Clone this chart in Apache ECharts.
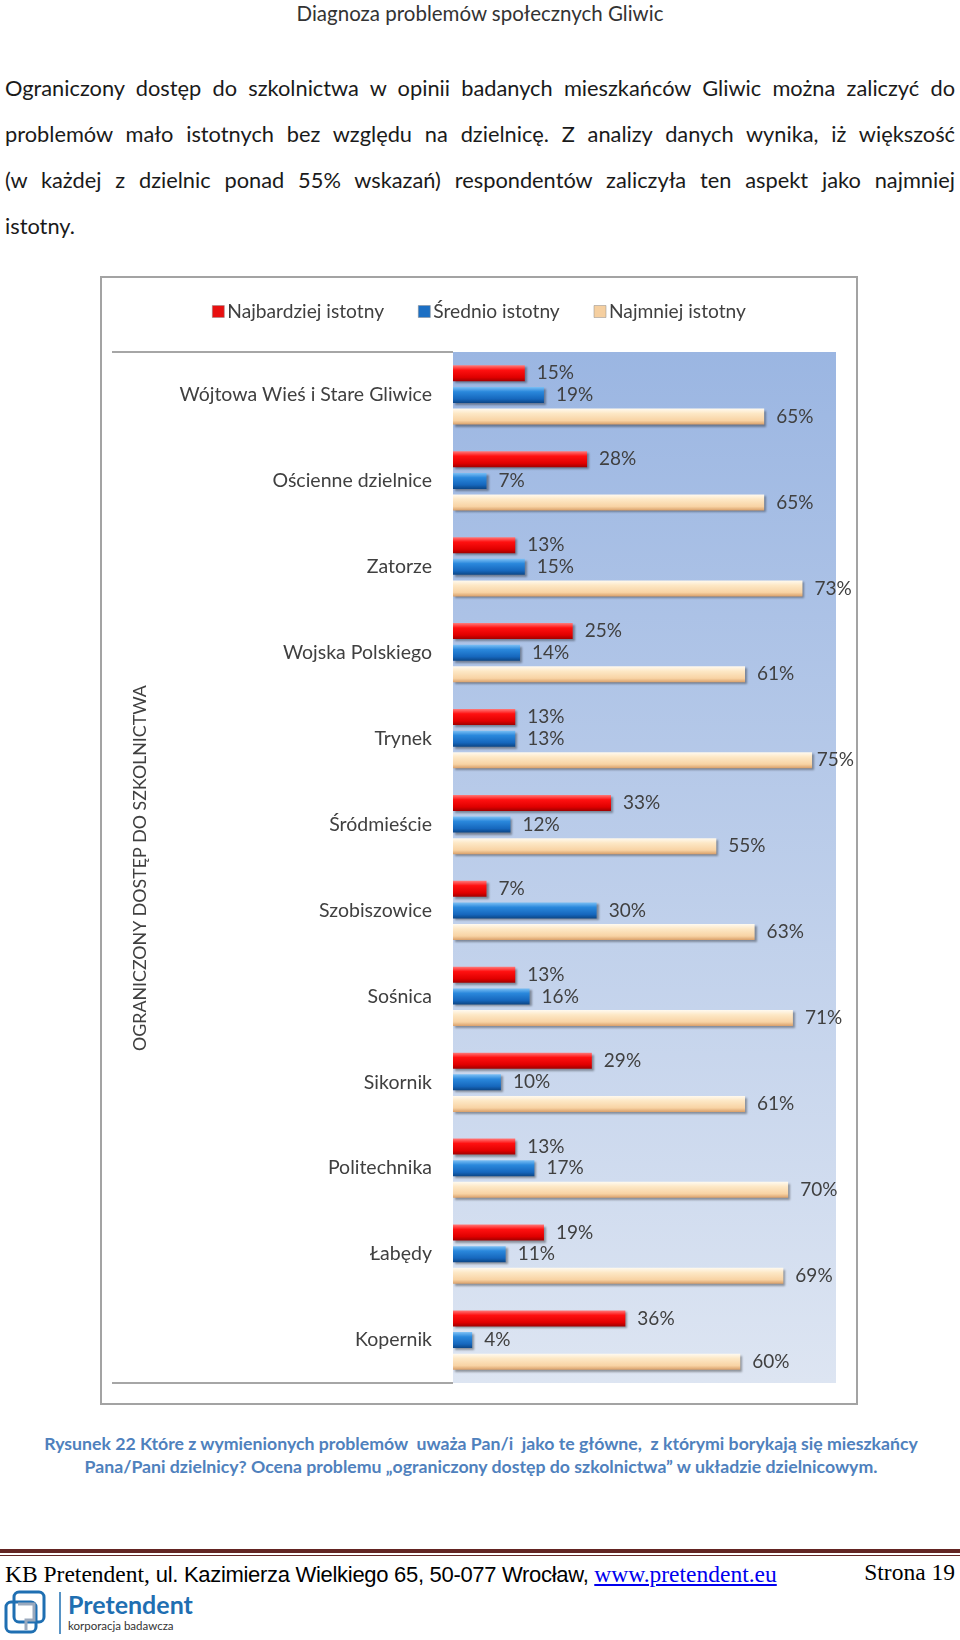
<!DOCTYPE html>
<html>
<head>
<meta charset="utf-8">
<script src="https://cdn.jsdelivr.net/npm/echarts@6/dist/echarts.min.js"></script>
<style>
  html, body { margin: 0; padding: 0; background: #fff; }
  body { width: 960px; height: 1640px; position: relative; overflow: hidden; font-family: Lato, "Open Sans", sans-serif; }
  .hdr { position: absolute; top: 0; left: 0; width: 960px; text-align: center; font-size: 20.5px; color: #333; line-height: 26px; }
  .para { position: absolute; left: 5px; top: 65px; width: 950px; font-size: 21.8px; color: #1a1a1a; }
  .para div { height: 46px; line-height: 46px; text-align: justify; text-align-last: justify; white-space: nowrap; }
  .para div.last { text-align-last: left; }
  #wrap { position: absolute; left: 100px; top: 276px; width: 754px; height: 1125px; border: 2px solid #a3a3a3; }
  #chart { width: 754px; height: 1125px; }
  .cap { position: absolute; left: 0; top: 1432px; width: 962px; text-align: center; font-size: 17.7px; font-weight: bold; color: #4f81bd; line-height: 23px; white-space: nowrap; }
  .fline1 { position: absolute; left: 0; top: 1549px; width: 960px; height: 4px; background: #632523; }
  .fline2 { position: absolute; left: 0; top: 1555px; width: 960px; height: 1px; background: #632523; }
  .foot { position: absolute; left: 5px; top: 1559px; font-size: 23.5px; color: #000; white-space: nowrap; }
  .serif { font-family: "Liberation Serif", "DejaVu Serif", serif; }
  .sans { font-family: "Liberation Sans Narrow", "Liberation Sans", Arial, sans-serif; font-size: 22px; letter-spacing: -0.3px; }
  .url { font-family: "Liberation Serif", serif; color: #0000ee; text-decoration: underline; }
  .page { position: absolute; right: 5px; top: 1559px; font-size: 23.5px; font-family: "Liberation Serif", serif; }
  .logo { position: absolute; left: 4px; top: 1590px; }
</style>
</head>
<body>
<div class="hdr">Diagnoza problemów społecznych Gliwic</div>
<div class="para">
  <div>Ograniczony dostęp do szkolnictwa w opinii badanych mieszkańców Gliwic można zaliczyć do</div>
  <div>problemów mało istotnych bez względu na dzielnicę. Z analizy danych wynika, iż większość</div>
  <div>(w każdej z dzielnic ponad 55% wskazań) respondentów zaliczyła ten aspekt jako najmniej</div>
  <div class="last">istotny.</div>
</div>
<div id="wrap"><div id="chart"></div></div>
<div class="cap">Rysunek 22 Które z wymienionych problemów&nbsp; uważa Pan/i&nbsp; jako te główne,&nbsp; z którymi borykają się mieszkańcy<br>Pana/Pani dzielnicy? Ocena problemu „ograniczony dostęp do szkolnictwa” w układzie dzielnicowym.</div>
<div class="fline1"></div>
<div class="fline2"></div>
<div class="foot"><span class="serif">KB Pretendent, </span><span class="sans">ul. Kazimierza Wielkiego 65, 50-077 Wrocław, </span><span class="url">www.pretendent.eu</span></div>
<div class="page">Strona 19</div>
<div class="logo">
<svg width="200" height="46" viewBox="0 0 200 46">
  <rect x="10" y="2" width="30" height="30" rx="5" fill="none" stroke="#1f6fb2" stroke-width="3"/>
  <rect x="2" y="12" width="30" height="30" rx="5" fill="none" stroke="#1f6fb2" stroke-width="3"/>
  <path d="M14 14 L30 14 L30 30 L22 30 L22 40" fill="none" stroke="#9aa9bd" stroke-width="3"/>
  <line x1="56" y1="2" x2="56" y2="44" stroke="#1f6fb2" stroke-width="1.5"/>
  <text x="64" y="24" font-family="Lato, sans-serif" font-weight="bold" font-size="25" fill="#1f6fb2">Pretendent</text>
  <text x="64" y="40" font-family="Lato, sans-serif" font-size="11.5" fill="#333">korporacja badawcza</text>
</svg>
</div>
<script>
const categories = ['Wójtowa Wieś i Stare Gliwice', 'Ościenne dzielnice', 'Zatorze', 'Wojska Polskiego', 'Trynek', 'Śródmieście', 'Szobiszowice', 'Sośnica', 'Sikornik', 'Politechnika', 'Łabędy', 'Kopernik'];
const seriesNames = ['Najbardziej istotny', 'Średnio istotny', 'Najmniej istotny'];
const najbardziej = [15, 28, 13, 25, 13, 33, 7, 13, 29, 13, 19, 36];
const srednio = [19, 7, 15, 14, 13, 12, 30, 16, 10, 17, 11, 4];
const najmniej = [65, 65, 73, 61, 75, 55, 63, 71, 61, 70, 69, 60];
const axisTitle = 'OGRANICZONY DOSTĘP DO SZKOLNICTWA';

function grad(c1, c2, c3, c4) {
  return { type: 'linear', x: 0, y: 0, x2: 0, y2: 1, colorStops: [
    { offset: 0, color: c1 }, { offset: 0.3, color: c2 }, { offset: 0.75, color: c3 }, { offset: 1, color: c4 }] };
}
const fills = [
  grad('#ff7a7a', '#ff1010', '#e00000', '#a00000'),
  grad('#7cc0f5', '#2a88dc', '#1667bd', '#0c4686'),
  grad('#fffaf0', '#fde8c6', '#f8d3a4', '#d9a06a')
];
const legendColors = ['#e81010', '#1c6fc4', '#f5cfa0'];
const lblFont = { fontFamily: 'Lato, sans-serif', fontSize: 19.5, color: '#404040' };
const valFont = { fontFamily: 'Lato, sans-serif', fontSize: 19, color: '#404040' };

const chartEl = document.getElementById('chart');
const chart = echarts.init(chartEl, null, { renderer: 'canvas' });
const chartW = chartEl.clientWidth;
const dataSets = [najbardziej, srednio, najmniej];
chart.setOption({
  animation: false,
  legend: {
    top: 19, left: 'center', itemWidth: 12, itemHeight: 12, itemGap: 34, icon: 'rect',
    textStyle: { fontFamily: 'Lato, sans-serif', fontSize: 19.2, color: '#404040', padding: [0, 0, 0, -2] },
    data: seriesNames.map((n, i) => ({ name: n, itemStyle: { color: legendColors[i], borderColor: '#8a8a8a', borderWidth: 0.5 } }))
  },
  grid: {
    left: 351, top: 74, width: 383, height: 1031, show: true, borderWidth: 0,
    backgroundColor: { type: 'linear', x: 0, y: 0, x2: 0, y2: 1, colorStops: [
      { offset: 0, color: '#9bb6e2' }, { offset: 1, color: '#dde5f2' }] }
  },
  xAxis: { type: 'value', min: 0, max: 80, show: false },
  yAxis: {
    type: 'category', inverse: true, data: categories,
    axisLine: { show: false }, axisTick: { show: false },
    axisLabel: Object.assign({ margin: 21 }, lblFont)
  },
  graphic: [
    { type: 'line', shape: { x1: 10, y1: 74, x2: 351, y2: 74 }, style: { stroke: '#a6a6a6', lineWidth: 2 } },
    { type: 'line', shape: { x1: 10, y1: 1105, x2: 351, y2: 1105 }, style: { stroke: '#a6a6a6', lineWidth: 2 } },
    { type: 'text', rotation: Math.PI / 2, x: 38, y: 590,
      style: { text: axisTitle, fontFamily: 'Lato, sans-serif', fontSize: 17.8, fill: '#404040', align: 'center', verticalAlign: 'middle' } }
  ],
  series: dataSets.map((d, i) => ({
    name: seriesNames[i], type: 'bar', data: d, barWidth: 16, barGap: '35%',
    itemStyle: { color: fills[i], shadowColor: 'rgba(0,0,0,0.35)', shadowBlur: 2, shadowOffsetX: 2, shadowOffsetY: 2 },
    label: Object.assign({ show: true, position: 'right', distance: 12, formatter: '{c}%' }, valFont),
    labelLayout: function (p) {
      const r = p.labelRect;
      if (r.x + r.width > chartW - 2) {
        return { x: chartW - 2 - r.width, y: r.y + r.height / 2, align: 'left', verticalAlign: 'middle' };
      }
      return {};
    }
  }))
});
</script>
</body>
</html>
